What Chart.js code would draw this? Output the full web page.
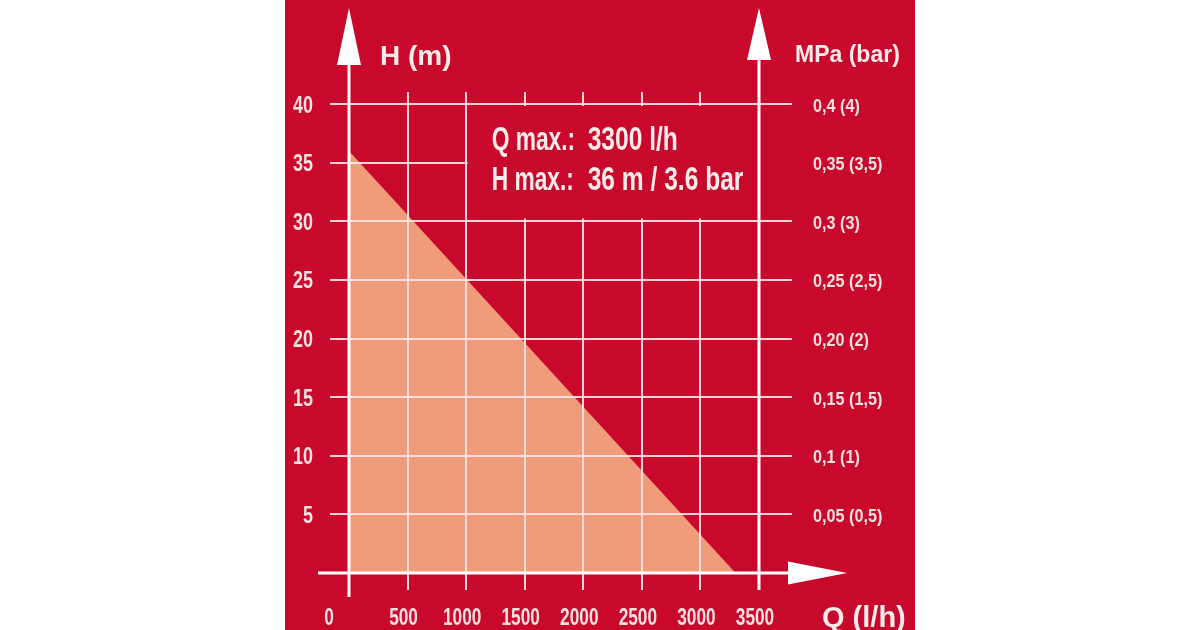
<!DOCTYPE html>
<html lang="de">
<head>
<meta charset="UTF-8">
<title>Kennlinie Q-H</title>
<script src="https://cdn.jsdelivr.net/npm/chart.js"></script>
<style>
  html, body { margin: 0; padding: 0; background: #fff; }
  .panel { position: absolute; left: 285px; top: 0; width: 630px; height: 630px; background: #c8092b; }
</style>
</head>
<body>
<div class="panel"><canvas id="kennlinie" width="630" height="630"></canvas></div>
<script>
  // Kennlinie: Fördermenge Q (l/h) gegen Förderhöhe H (m)
  const durchfluss = [0, 3300];
  const foerderhoehe = [36, 0];

  const qTicks = [0, 500, 1000, 1500, 2000, 2500, 3000, 3500];
  const hTicks = [0, 5, 10, 15, 20, 25, 30, 35, 40];
  const barTicks = ["", "0,05 (0,5)", "0,1 (1)", "0,15 (1,5)", "0,20 (2)", "0,25 (2,5)", "0,3 (3)", "0,35 (3,5)", "0,4 (4)"];
  const infoZeilen = [["Q max.:", "3300 l/h"], ["H max.:", "36 m / 3.6 bar"]];

  const ROT = "#c8092b";
  const ORANGE = "#f09b7a";
  const GITTER = "rgba(255, 228, 228, 0.92)";
  const SCHRIFT = "#f7e0e0";
  const breit = '"Liberation Sans", Arial, sans-serif';

  const qMin = qTicks[0], qMax = qTicks[qTicks.length - 1];
  const hMax = hTicks[hTicks.length - 1];

  // Gitterlinien an den Achsen selbst werden von Hand gezeichnet
  function gitterX(ctx) {
    const v = ctx.tick && ctx.tick.value;
    return v === qMin || v === qMax ? "rgba(0,0,0,0)" : GITTER;
  }
  function gitterY(ctx) {
    const v = ctx.tick && ctx.tick.value;
    return v === 0 ? "rgba(0,0,0,0)" : GITTER;
  }

  // schmale Schrift (wie Helvetica Condensed) durch horizontales Stauchen
  function schmalText(ctx, text, x, y, align, font, sx) {
    ctx.save();
    ctx.translate(x, y);
    ctx.scale(sx, 1);
    ctx.font = font;
    ctx.textAlign = align;
    ctx.textBaseline = "alphabetic";
    ctx.fillText(text, 0, 0);
    ctx.restore();
  }

  const achsen = {
    id: "achsen",
    afterDraw(chart) {
      const { ctx, scales: { x, y } } = chart;
      const x0 = x.getPixelForValue(qMin);
      const x1 = x.getPixelForValue(qMax);
      const y0 = y.getPixelForValue(0);
      const yTop = y.getPixelForValue(hMax);
      ctx.save();

      // Infokasten überdeckt das Gitter
      const kx = x.getPixelForValue(1000) + 1.5;
      const ky = yTop + 2;
      ctx.fillStyle = ROT;
      ctx.fillRect(kx, ky, x1 + 33 - kx, y.getPixelForValue(30) - 3 - ky);

      ctx.strokeStyle = "#fff";
      ctx.fillStyle = "#fff";
      ctx.lineWidth = 3;
      ctx.beginPath();
      ctx.moveTo(x0, 50); ctx.lineTo(x0, y0 + 24);
      ctx.moveTo(x1, 50); ctx.lineTo(x1, y0 + 17);
      ctx.moveTo(x0 - 31, y0); ctx.lineTo(x1 + 40, y0);
      ctx.stroke();

      // Pfeilspitzen
      ctx.beginPath();
      ctx.moveTo(x0, 8); ctx.lineTo(x0 + 12, 65); ctx.lineTo(x0 - 12, 65); ctx.closePath();
      ctx.moveTo(x1, 8); ctx.lineTo(x1 + 12, 60); ctx.lineTo(x1 - 12, 60); ctx.closePath();
      ctx.moveTo(x1 + 88, y0); ctx.lineTo(x1 + 29, y0 - 11.5); ctx.lineTo(x1 + 29, y0 + 11.5); ctx.closePath();
      ctx.fill();

      // Achsentitel
      ctx.fillStyle = "#fbeaea";
      ctx.textBaseline = "alphabetic";
      ctx.textAlign = "left";
      ctx.font = "bold 28px " + breit;
      ctx.fillText("H (m)", x0 + 31, 65);
      ctx.font = "bold 23px " + breit;
      ctx.fillText("MPa (bar)", x1 + 36, 62);
      ctx.font = "bold 29px " + breit;
      ctx.fillText("Q (l/h)", x1 + 63, 627);

      // Achsenbeschriftungen
      ctx.fillStyle = SCHRIFT;
      const fTick = "bold 23px " + breit;
      hTicks.forEach(function (v, i) {
        if (v === 0) return;
        const py = y.getPixelForValue(v);
        schmalText(ctx, String(v), x0 - 36, py + 8.5, "right", fTick, 0.78);
        schmalText(ctx, barTicks[i], x1 + 54, py + 7.5, "left", "bold 18px " + breit, 0.9);
      });
      qTicks.forEach(function (v) {
        const px = v === qMin ? x0 - 20 : x.getPixelForValue(v) - 4;
        schmalText(ctx, String(v), px, 625, "center", fTick, 0.75);
      });

      // Text im Kasten
      ctx.fillStyle = "#fbeaea";
      infoZeilen.forEach(function (z, i) {
        schmalText(ctx, z[0], kx + 24, 150 + i * 40, "left", "bold 33px " + breit, 0.69);
        schmalText(ctx, z[1], kx + 120, 150 + i * 40, "left", "bold 33px " + breit, 0.745);
      });
      ctx.restore();
    }
  };

  const config = {
    type: "line",
    data: {
      datasets: [{
        label: "H",
        data: durchfluss.map((q, i) => ({ x: q, y: foerderhoehe[i] })),
        borderWidth: 0,
        borderColor: ORANGE,
        backgroundColor: ORANGE,
        pointRadius: 0,
        fill: "origin",
        tension: 0
      }]
    },
    options: {
      responsive: false,
      animation: false,
      layout: { padding: 0 },
      plugins: { legend: { display: false }, tooltip: { enabled: false } },
      scales: {
        x: {
          type: "linear", position: "bottom", min: qMin, max: qMax,
          afterBuildTicks: (s) => { s.ticks = qTicks.map((v) => ({ value: v })); },
          afterFit: (s) => { s.height = 57; },
          border: { display: false },
          grid: { z: 1, color: gitterX, lineWidth: 2, tickLength: 17 },
          ticks: { display: false }
        },
        x2: {
          type: "linear", position: "top", min: qMin, max: qMax,
          afterBuildTicks: (s) => { s.ticks = qTicks.map((v) => ({ value: v })); },
          afterFit: (s) => { s.height = 104; },
          border: { display: false },
          grid: { z: 1, drawOnChartArea: false, color: gitterX, lineWidth: 2, tickLength: 12 },
          ticks: { display: false }
        },
        y: {
          type: "linear", position: "left", min: 0, max: hMax,
          afterBuildTicks: (s) => { s.ticks = hTicks.map((v) => ({ value: v })); },
          afterFit: (s) => { s.width = 64; },
          border: { display: false },
          grid: { z: 1, color: gitterY, lineWidth: 2, tickLength: 19 },
          ticks: { display: false }
        },
        y2: {
          type: "linear", position: "right", min: 0, max: hMax,
          afterBuildTicks: (s) => { s.ticks = hTicks.map((v) => ({ value: v })); },
          afterFit: (s) => { s.width = 156; },
          border: { display: false },
          grid: { z: 1, drawOnChartArea: false, color: gitterY, lineWidth: 2, tickLength: 33 },
          ticks: { display: false }
        }
      }
    },
    plugins: [achsen]
  };

  new Chart(document.getElementById("kennlinie"), config);
</script>
</body>
</html>
